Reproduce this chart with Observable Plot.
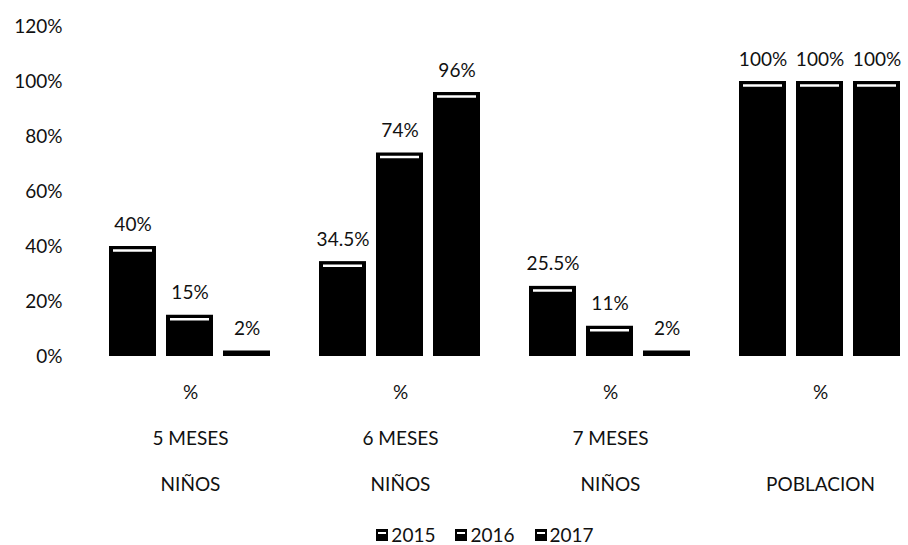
<!DOCTYPE html>
<html>
<head>
<meta charset="utf-8">
<script src="https://cdn.jsdelivr.net/npm/d3@7"></script>
<script src="https://cdn.jsdelivr.net/npm/@observablehq/plot@0.6"></script>
<style>
  html, body { margin: 0; padding: 0; background: #fff; }
  #chart { width: 908px; font-family: Lato, "Open Sans", sans-serif; }
  .legend { display: flex; justify-content: center; gap: 20px; font-size: 19px; color: #111; height: 25px; align-items: center; padding-left: 62px; margin-top: 2px; }
  .legend span { display: inline-flex; align-items: center; gap: 3px; }
  .sw { width: 12px; height: 12px; background: #000; position: relative; display: inline-block; }
  .sw::after { content: ""; position: absolute; left: 2px; top: 3px; width: 8px; height: 2px; background: #fff; }
</style>
</head>
<body>
<div id="chart"></div>
<script>
// Groups along the horizontal axis
const groups = ["g1", "g2", "g3", "g4"];
const unitLabels = ["%", "%", "%", "%"];
const ageLabels = ["5 MESES", "6 MESES", "7 MESES", ""];
const targetLabels = ["NIÑOS", "NIÑOS", "NIÑOS", "POBLACION"];

// Series (years) and values per group, in percent
const years = ["2015", "2016", "2017"];
const values2015 = [40, 34.5, 25.5, 100];
const values2016 = [15, 74, 11, 100];
const values2017 = [2, 96, 2, 100];

const yTicks = [0, 20, 40, 60, 80, 100, 120];

const seriesValues = [values2015, values2016, values2017];
const rows = [];
groups.forEach((g, i) => {
  years.forEach((yr, j) => {
    rows.push({group: g, year: yr, value: seriesValues[j][i]});
  });
});
const labelRows = groups.map((g, i) => ({
  group: g, unit: unitLabels[i], age: ageLabels[i], target: targetLabels[i]
}));

const fmt = v => `${v}%`;

const chart = Plot.plot({
  width: 908,
  height: 520,
  marginLeft: 107,
  marginRight: 6,
  marginTop: 26,
  marginBottom: 164,
  style: {fontFamily: "Lato, 'Open Sans', sans-serif", fontSize: "19px", color: "#111", background: "#fff"},
  fx: {domain: groups, paddingInner: 0.22, paddingOuter: 0, axis: null},
  x: {domain: years, paddingInner: 0.17, paddingOuter: 0, axis: null},
  y: {domain: [0, 120], ticks: yTicks, tickFormat: d => `${d}%`, tickSize: 0, tickPadding: 46, label: null},
  marks: [
    Plot.axisY({ticks: yTicks, tickFormat: d => `${d}%`, tickSize: 0, tickPadding: 46, label: null, fontSize: 19}),
    Plot.barY(rows, {fx: "group", x: "year", y: "value", fill: "#000"}),
    // light bevel highlight near the top of each taller bar
    Plot.tickY(rows.filter(d => d.value >= 5), {
      fx: "group", x: "year", y: "value", dy: 4, insetLeft: 4, insetRight: 4,
      stroke: "#fff", strokeWidth: 2.5
    }),
    Plot.text(rows, {fx: "group", x: "year", y: "value", text: d => fmt(d.value), dy: -22, fill: "#111", fontSize: 19}),
    Plot.text(labelRows, {fx: "group", text: "unit", frameAnchor: "bottom", dy: 42, fill: "#111", fontSize: 19}),
    Plot.text(labelRows, {fx: "group", text: "age", frameAnchor: "bottom", dy: 88, fill: "#111", fontSize: 19}),
    Plot.text(labelRows, {fx: "group", text: "target", frameAnchor: "bottom", dy: 134, fill: "#111", fontSize: 19})
  ]
});

const root = document.getElementById("chart");
root.appendChild(chart);

const legend = document.createElement("div");
legend.className = "legend";
years.forEach(yr => {
  const s = document.createElement("span");
  const sw = document.createElement("i");
  sw.className = "sw";
  s.appendChild(sw);
  s.appendChild(document.createTextNode(yr));
  legend.appendChild(s);
});
root.appendChild(legend);
</script>
</body>
</html>
